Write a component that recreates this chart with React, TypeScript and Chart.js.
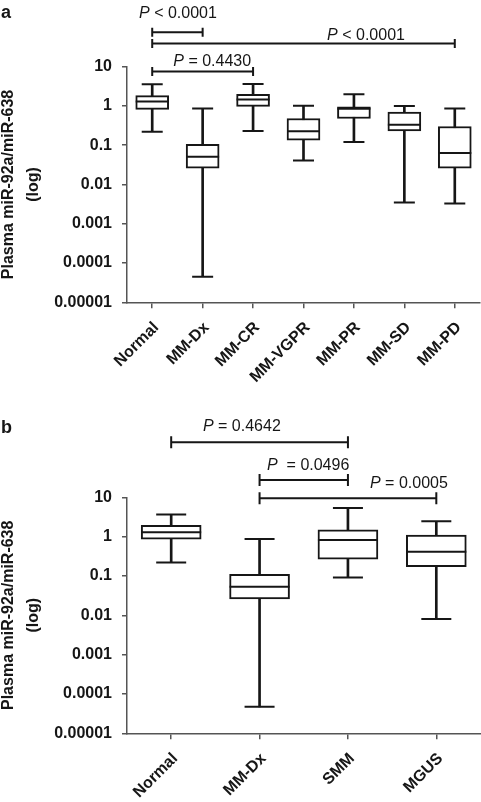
import React, { useEffect, useRef } from 'react';
import { Chart, registerables } from 'chart.js';

Chart.register(...registerables);

// ---------- data ----------
const yTickValues = [0.00001, 0.0001, 0.001, 0.01, 0.1, 1, 10];
const yTickLabels = ['0.00001', '0.0001', '0.001', '0.01', '0.1', '1', '10'];
const yTitle = ['Plasma miR-92a/miR-638', '(log)'];

// Panel a
const catsA = ['Normal', 'MM-Dx', 'MM-CR', 'MM-VGPR', 'MM-PR', 'MM-SD', 'MM-PD'];
const minA = [0.22, 0.000045, 0.23, 0.041, 0.12, 0.0035, 0.0033];
const q1A = [0.82, 0.026, 0.98, 0.134, 0.48, 0.23, 0.026];
const medA = [1.29, 0.051, 1.46, 0.227, 0.85, 0.33, 0.063];
const q3A = [1.84, 0.106, 1.99, 0.48, 0.95, 0.70, 0.30];
const maxA = [3.57, 0.86, 3.63, 1.02, 1.99, 1.0, 0.86];
const bracketPairsA = [[0, 1], [0, 6], [0, 2]];
const bracketLevelsA = [75, 38.7, 7.6];
const bracketLabelsA = [' < 0.0001', ' < 0.0001', ' = 0.4430'];

// Panel b
const catsB = ['Normal', 'MM-Dx', 'SMM', 'MGUS'];
const minB = [0.22, 0.000047, 0.091, 0.0081];
const q1B = [0.86, 0.026, 0.266, 0.172];
const medB = [1.29, 0.053, 0.82, 0.415];
const q3B = [1.95, 0.11, 1.48, 1.09];
const maxB = [3.63, 0.87, 5.38, 2.46];
const bracketPairsB = [[0, 2], [1, 2], [1, 3]];
const bracketLevelsB = [251, 27.7, 9.5];
const bracketLabelsB = [' = 0.4642', '  = 0.0496', ' = 0.0005'];

// ---------- layout / style ----------
const FONT = '"Liberation Sans", Arial, Helvetica, sans-serif';
const INK = '#161616';
const AXIS = '#555';

interface Panel {
  letter: string;
  cats: string[];
  mins: number[]; q1s: number[]; meds: number[]; q3s: number[]; maxs: number[];
  pairs: number[][]; levels: number[]; labels: string[];
  textX: number[]; textDy: number[];
  height: number; top: number; bottom: number; right: number;
  boxW: number; capW: number; tickHalf: number; letterY: number;
}

const panelA: Panel = {
  letter: 'a', cats: catsA, mins: minA, q1s: q1A, meds: medA, q3s: q3A, maxs: maxA,
  pairs: bracketPairsA, levels: bracketLevelsA, labels: bracketLabelsA,
  textX: [0.51, 4.24, 1.19], textDy: [14, 4, 5],
  height: 400, top: 66.7, bottom: 302.3, right: 1,
  boxW: 33, capW: 21, tickHalf: 4.5, letterY: 18,
};

const panelB: Panel = {
  letter: 'b', cats: catsB, mins: minB, q1s: q1B, meds: medB, q3s: q3B, maxs: maxB,
  pairs: bracketPairsB, levels: bracketLevelsB, labels: bracketLabelsB,
  textX: [0.80, 1.55, 2.69], textDy: [11, 10, 10],
  height: 402, top: 97.3, bottom: 333.3, right: 0.5,
  boxW: 60, capW: 30, tickHalf: 6, letterY: 33,
};

const annotPlugin = {
  id: 'annot',
  afterDraw(chart: any, _args: any, o: any) {
    const ctx = chart.ctx;
    const xs = chart.scales.x;
    const ys = chart.scales.y;
    ctx.save();
    ctx.strokeStyle = INK;
    ctx.fillStyle = INK;
    ctx.lineWidth = 2;
    o.pairs.forEach((pr: number[], i: number) => {
      const x1 = xs.getPixelForValue(pr[0]);
      const x2 = xs.getPixelForValue(pr[1]);
      const yy = ys.getPixelForValue(o.levels[i]);
      ctx.beginPath();
      ctx.moveTo(x1, yy); ctx.lineTo(x2, yy);
      ctx.moveTo(x1, yy - o.tickHalf); ctx.lineTo(x1, yy + o.tickHalf);
      ctx.moveTo(x2, yy - o.tickHalf); ctx.lineTo(x2, yy + o.tickHalf);
      ctx.stroke();
      ctx.textAlign = 'left';
      ctx.textBaseline = 'alphabetic';
      ctx.font = `italic 16px ${FONT}`;
      const pw = ctx.measureText('P').width;
      ctx.font = `16px ${FONT}`;
      const rw = ctx.measureText(o.labels[i]).width;
      const cx = xs.getPixelForValue(o.textX[i]);
      const left = cx - (pw + rw) / 2;
      const base = yy - o.textDy[i];
      ctx.font = `italic 16px ${FONT}`;
      ctx.fillText('P', left, base);
      ctx.font = `16px ${FONT}`;
      ctx.fillText(o.labels[i], left + pw, base);
    });
    ctx.font = `bold 18px ${FONT}`;
    ctx.textAlign = 'left';
    ctx.fillText(o.letter, 1, o.letterY);
    ctx.restore();
  },
};

function makeConfig(p: Panel): any {
  const xAxisHeight = p.height - p.bottom;
  return {
    type: 'bar',
    data: {
      labels: p.cats,
      datasets: [
        {
          type: 'bar', label: 'whisker', order: 3, grouped: false,
          data: p.cats.map((_, i) => [p.mins[i], p.maxs[i]]),
          backgroundColor: INK, borderWidth: 0, barThickness: 2,
        },
        {
          type: 'bar', label: 'box', order: 2, grouped: false,
          data: p.cats.map((_, i) => [p.q1s[i], p.q3s[i]]),
          backgroundColor: '#ffffff', borderColor: INK, borderWidth: 2,
          borderSkipped: false, barThickness: p.boxW,
        },
        {
          type: 'line', label: 'median', order: 1, data: p.meds, showLine: false,
          pointStyle: 'line', pointRadius: p.boxW / 2, pointHoverRadius: p.boxW / 2,
          pointBorderWidth: 2, pointBorderColor: INK, borderColor: INK,
        },
        {
          type: 'line', label: 'min', order: 0, data: p.mins, showLine: false,
          pointStyle: 'line', pointRadius: p.capW / 2, pointHoverRadius: p.capW / 2,
          pointBorderWidth: 2, pointBorderColor: INK, borderColor: INK,
        },
        {
          type: 'line', label: 'max', order: 0, data: p.maxs, showLine: false,
          pointStyle: 'line', pointRadius: p.capW / 2, pointHoverRadius: p.capW / 2,
          pointBorderWidth: 2, pointBorderColor: INK, borderColor: INK,
        },
      ],
    },
    options: {
      responsive: false,
      animation: false,
      devicePixelRatio: 1,
      events: [],
      layout: { autoPadding: false, padding: { top: p.top, right: p.right, bottom: 0, left: 0 } },
      plugins: {
        legend: { display: false },
        tooltip: { enabled: false },
        annot: {
          pairs: p.pairs, levels: p.levels, labels: p.labels,
          textX: p.textX, textDy: p.textDy, tickHalf: p.tickHalf,
          letter: p.letter, letterY: p.letterY,
        },
      },
      scales: {
        x: {
          type: 'category',
          offset: true,
          grid: { display: true, drawOnChartArea: false, drawTicks: true, tickLength: 6, offset: false, color: AXIS, lineWidth: 1.5 },
          border: { display: true, color: AXIS, width: 1.5 },
          ticks: {
            autoSkip: false, maxRotation: 45, minRotation: 45, padding: 10, labelOffset: 4,
            color: INK, font: { family: FONT, size: 16, weight: 'bold' },
          },
          afterFit: (s: any) => {
            s.height = xAxisHeight;
            s.paddingLeft = 0; s.paddingRight = 0; s.paddingTop = 0; s.paddingBottom = 0;
          },
        },
        y: {
          type: 'logarithmic',
          min: 0.00001,
          max: 10,
          grid: { display: true, drawOnChartArea: false, drawTicks: true, tickLength: 5, color: AXIS, lineWidth: 1.5 },
          border: { display: true, color: AXIS, width: 1.5 },
          afterBuildTicks: (s: any) => { s.ticks = yTickValues.map((v) => ({ value: v })); },
          ticks: {
            padding: 10, color: INK, font: { family: FONT, size: 16, weight: 'bold' },
            callback: (v: any) => {
              const idx = yTickValues.findIndex((t) => Math.abs(Math.log10(t) - Math.log10(Number(v))) < 1e-6);
              return idx >= 0 ? yTickLabels[idx] : '';
            },
          },
          title: {
            display: true, text: yTitle, color: INK,
            font: { family: FONT, size: 16, weight: 'bold', lineHeight: 1.5625 },
            padding: { top: -3.5, bottom: 0 },
          },
          afterFit: (s: any) => {
            s.width = 127;
            s.paddingLeft = 0; s.paddingRight = 0; s.paddingTop = 0; s.paddingBottom = 0;
          },
        },
      },
    },
    plugins: [annotPlugin],
  };
}

function BoxChart({ panel, top }: { panel: Panel; top: number }) {
  const ref = useRef<HTMLCanvasElement | null>(null);
  useEffect(() => {
    if (!ref.current) return;
    const chart = new Chart(ref.current, makeConfig(panel));
    return () => chart.destroy();
  }, [panel]);
  return (
    <canvas
      ref={ref}
      width={481}
      height={panel.height}
      style={{ position: 'absolute', left: 0, top, width: 481, height: panel.height, display: 'block' }}
    />
  );
}

export default function App() {
  return (
    <div style={{ position: 'absolute', left: 0, top: 0, width: 481, height: 802, background: '#fff', overflow: 'hidden' }}>
      <BoxChart panel={panelA} top={0} />
      <BoxChart panel={panelB} top={400} />
    </div>
  );
}
